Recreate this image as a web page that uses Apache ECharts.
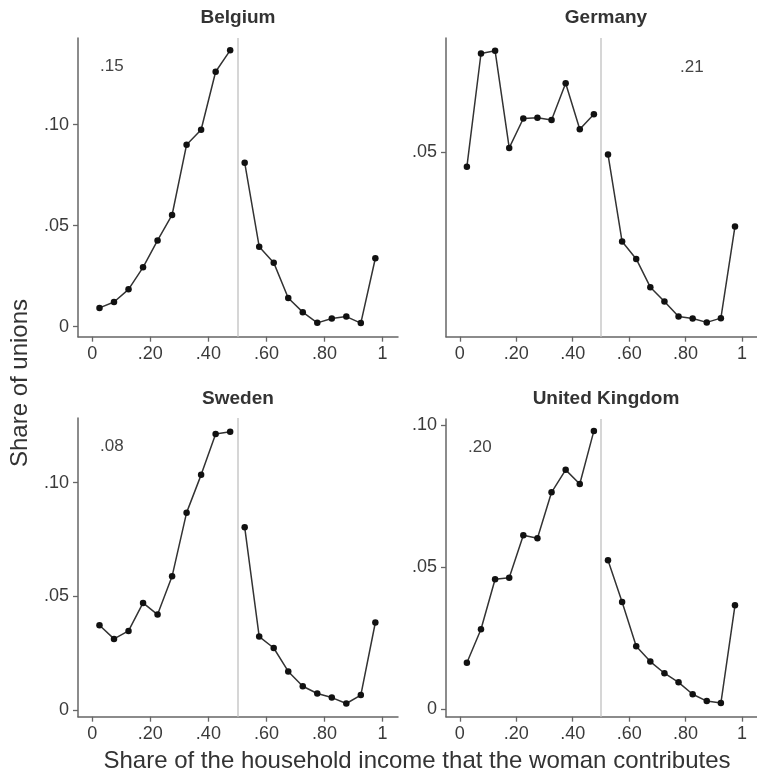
<!DOCTYPE html>
<html>
<head>
<meta charset="utf-8">
<script src="https://cdn.jsdelivr.net/npm/echarts@6/dist/echarts.min.js"></script>
<style>
  html, body { margin: 0; padding: 0; background: #fff; }
  #chart { width: 757px; height: 775px; }
</style>
</head>
<body>
<div id="chart"></div>
<script>
// bin midpoints (share of household income the woman contributes)
const bins = [0.025, 0.075, 0.125, 0.175, 0.225, 0.275, 0.325, 0.375, 0.425, 0.475,
  0.525, 0.575, 0.625, 0.675, 0.725, 0.775, 0.825, 0.875, 0.925, 0.975]

const countries = ['Belgium', 'Germany', 'Sweden', 'United Kingdom']
// share at exactly zero, printed inside each panel
const zeroShares = ['.15', '.21', '.08', '.20']

const belgium = [0.0093, 0.0122, 0.0185, 0.0294, 0.0427, 0.0553, 0.0901, 0.0975, 0.1262, 0.1368,
  0.0812, 0.0396, 0.0317, 0.0142, 0.0072, 0.0019, 0.0041, 0.0050, 0.0018, 0.0339]
const germany = [0.0461, 0.0754, 0.0761, 0.0510, 0.0586, 0.0588, 0.0582, 0.0677, 0.0558, 0.0597,
  0.0493, 0.0268, 0.0223, 0.0150, 0.0113, 0.0074, 0.0069, 0.0059, 0.0070, 0.0307]
const sweden = [0.0373, 0.0313, 0.0348, 0.0471, 0.0420, 0.0588, 0.0868, 0.1034, 0.1214, 0.1224,
  0.0804, 0.0323, 0.0273, 0.0170, 0.0105, 0.0073, 0.0055, 0.0029, 0.0066, 0.0385]
const uk = [0.0163, 0.0281, 0.0457, 0.0462, 0.0612, 0.0601, 0.0763, 0.0842, 0.0792, 0.0979,
  0.0524, 0.0377, 0.0221, 0.0167, 0.0126, 0.0094, 0.0052, 0.0028, 0.0021, 0.0365]

const xTicks = [0, 0.2, 0.4, 0.6, 0.8, 1]
const yTicks = [[0, 0.05, 0.1], [0.05], [0, 0.05, 0.1], [0, 0.05, 0.1]]
const yRanges = [[-0.00495, 0.1429], [0.0022, 0.0794], [-0.0029, 0.1284], [-0.0027, 0.1021]]

const allShares = [belgium, germany, sweden, uk]

const font = 'Liberation Sans, Arial, Helvetica, sans-serif'
const axisColor = '#666'
const textColor = '#3a3a3a'

// panel boxes in px
const grids = [
  { left: 78, top: 38, width: 320, height: 298.7 },
  { left: 446, top: 38, width: 320, height: 298.7 },
  { left: 78, top: 418, width: 320, height: 298.7 },
  { left: 446, top: 419, width: 320, height: 297.7 }
]

function fmt (v) {
  if (v === 0) return '0'
  if (v === 1) return '1'
  return v.toFixed(2).replace(/^0/, '')
}

const xAxes = grids.map((g, i) => ({
  type: 'value',
  gridIndex: i,
  min: -0.049,
  max: 1.053,
  // keep the axis at the bottom of the panel, not at y = 0
  axisLine: { onZero: false, lineStyle: { color: axisColor, width: 1.5 } },
  axisTick: { customValues: xTicks, length: 5, lineStyle: { color: axisColor, width: 1.3 } },
  axisLabel: { customValues: xTicks, formatter: fmt, fontSize: 18, color: textColor, fontFamily: font, margin: 8 },
  splitLine: { show: false }
}))

const yAxes = grids.map((g, i) => ({
  type: 'value',
  gridIndex: i,
  min: yRanges[i][0],
  max: yRanges[i][1],
  axisLine: { show: true, onZero: false, lineStyle: { color: axisColor, width: 1.5 } },
  axisTick: { show: true, customValues: yTicks[i], length: 5, lineStyle: { color: axisColor, width: 1.3 } },
  axisLabel: { customValues: yTicks[i], formatter: fmt, fontSize: 18, color: textColor, fontFamily: font, margin: 9 },
  splitLine: { show: false }
}))

const series = []
allShares.forEach((vals, i) => {
  const pts = bins.map((b, k) => [b, vals[k]])
  ;[pts.slice(0, 10), pts.slice(10)].forEach((part, j) => {
    series.push({
      type: 'line',
      xAxisIndex: i,
      yAxisIndex: i,
      data: part,
      symbol: 'circle',
      symbolSize: 6.5,
      itemStyle: { color: '#111' },
      lineStyle: { color: '#333', width: 1.5 },
      silent: true,
      markLine: j === 0 ? {
        symbol: 'none',
        silent: true,
        label: { show: false },
        lineStyle: { color: '#c8c8c8', width: 1.5, type: 'solid' },
        data: [{ xAxis: 0.5 }]
      } : undefined
    })
  })
})

const titlePos = [[238, 18], [606, 18], [238, 399], [606, 399]]
const notePos = [[100, 66], [680, 67], [100, 446], [468, 447]]

const graphics = []
countries.forEach((c, i) => {
  graphics.push({
    type: 'text', x: titlePos[i][0], y: titlePos[i][1],
    style: { text: c, font: 'bold 19px ' + font, fill: '#333', textAlign: 'center', textVerticalAlign: 'middle' }
  })
  graphics.push({
    type: 'text', x: notePos[i][0], y: notePos[i][1],
    style: { text: zeroShares[i], font: '17px ' + font, fill: '#444', textAlign: 'left', textVerticalAlign: 'middle' }
  })
})
graphics.push({
  type: 'text', x: 417, y: 761,
  style: { text: 'Share of the household income that the woman contributes', font: '24px ' + font, fill: '#333', textAlign: 'center', textVerticalAlign: 'middle' }
})
graphics.push({
  type: 'text', x: 20, y: 383, rotation: Math.PI / 2,
  style: { text: 'Share of unions', font: '24px ' + font, fill: '#333', textAlign: 'center', textVerticalAlign: 'middle' }
})

const chart = echarts.init(document.getElementById('chart'), null, { renderer: 'canvas' })
chart.setOption({
  animation: false,
  backgroundColor: '#fff',
  grid: grids,
  xAxis: xAxes,
  yAxis: yAxes,
  series: series,
  graphic: graphics
})
</script>
</body>
</html>
